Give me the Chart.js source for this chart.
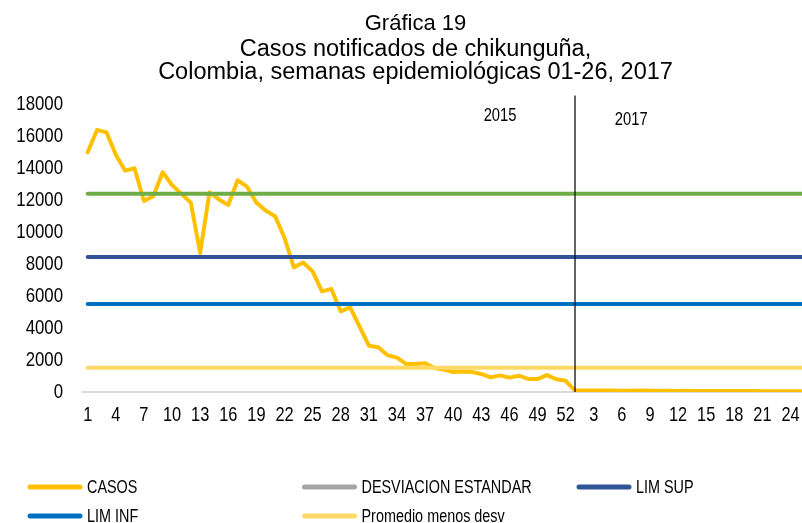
<!DOCTYPE html>
<html lang="es">
<head>
<meta charset="UTF-8">
<title>Gráfica 19 - Casos notificados de chikunguña</title>
<script src="https://cdn.jsdelivr.net/npm/chart.js"></script>
<style>
    html, body {
        margin: 0;
        padding: 0;
        background: #fff;
        overflow: hidden;
    }
    .chart-box {
        position: relative;
        width: 814px;
        height: 523px;
    }
</style>
</head>
<body>
<div class="chart-box"><canvas id="chikChart"></canvas></div>
<script>
// semanas epidemiológicas (eje X)
const semanas2015 = [1,2,3,4,5,6,7,8,9,10,11,12,13,14,15,16,17,18,19,20,21,22,23,24,25,26,
                     27,28,29,30,31,32,33,34,35,36,37,38,39,40,41,42,43,44,45,46,47,48,49,50,51,52];
const semanas2017 = [1,2,3,4,5,6,7,8,9,10,11,12,13,14,15,16,17,18,19,20,21,22,23,24,25,26];

// casos notificados por semana
const casos2015 = [15000,16400,16250,14850,13850,14000,11950,12250,13750,12950,12400,11850,8700,
                   12500,12050,11700,13250,12850,11850,11350,11000,9650,7800,8100,7550,6300,
                   6450,5050,5300,4100,2900,2800,2300,2150,1750,1750,1800,1500,1400,1250,
                   1280,1250,1130,920,1040,900,1020,820,810,1060,800,700];
const casos2017 = [90,95,100,95,90,85,80,90,85,80,75,70,75,70,65,70,60,55,60,55,50,45,40,45,40,35];

// líneas de referencia (valores constantes)
const promedio = 12400;
const limSup = 8450;
const limInf = 5500;
const promMenosDesv = 1520;
const desviacion = []; // sin trazo visible en el rango del gráfico

const yTicks = [0,2000,4000,6000,8000,10000,12000,14000,16000,18000];

const labels = [...semanas2015, ...semanas2017];
const casos = [...casos2015, ...casos2017];
const constante = v => labels.map(() => v);

const FONT = '"Liberation Sans", Arial, sans-serif';

// texto comprimido en horizontal (la original usa una fuente "narrow")
function textoAngosto(ctx, text, px, py, align, k) {
    ctx.save();
    ctx.translate(px, py);
    ctx.scale(k || 0.8, 1);
    ctx.textAlign = align;
    ctx.fillText(text, 0, 0);
    ctx.restore();
}

// rotulos de los ejes
const etiquetas = {
    id: 'etiquetas',
    afterDraw(chart) {
        const {ctx, scales: {x, y}} = chart;
        ctx.save();
        ctx.fillStyle = '#000';
        ctx.textBaseline = 'middle';
        ctx.font = '21px ' + FONT;
        y.ticks.forEach(t => {
            textoAngosto(ctx, String(t.value), y.right - 20, y.getPixelForValue(t.value), 'right');
        });
        labels.forEach((lab, i) => {
            if (i % 3 !== 0) return;
            textoAngosto(ctx, String(lab), x.getPixelForValue(i), x.top + 23, 'center', 0.78);
        });
        ctx.restore();
    }
};

// linea vertical 2015 / 2017 y rotulos de año
const separador = {
    id: 'separador',
    afterDatasetsDraw(chart) {
        const {ctx, chartArea, scales: {x, y}} = chart;
        const px = x.getPixelForValue(semanas2015.length);
        ctx.save();
        ctx.strokeStyle = '#111';
        ctx.lineWidth = 1.3;
        ctx.beginPath();
        ctx.moveTo(px, chartArea.top);
        ctx.lineTo(px, y.getPixelForValue(0));
        ctx.stroke();
        ctx.font = '18px ' + FONT;
        ctx.fillStyle = '#000';
        ctx.textBaseline = 'middle';
        textoAngosto(ctx, '2015', x.getPixelForValue(44), y.getPixelForValue(17250), 'center', 0.82);
        textoAngosto(ctx, '2017', x.getPixelForValue(58), y.getPixelForValue(16990), 'center', 0.82);
        ctx.restore();
    }
};

// leyenda en columnas fijas, como en la original
const leyenda = {
    id: 'leyenda',
    afterDraw(chart) {
        const ctx = chart.ctx;
        const items = chart.data.datasets.filter(d => d.enLeyenda);
        ctx.save();
        ctx.font = '18px ' + FONT;
        ctx.textBaseline = 'middle';
        ctx.fillStyle = '#000';
        items.forEach((d, i) => {
            const col = i % 3, row = Math.floor(i / 3);
            const x0 = 28 + col * 274.5;
            const yy = 487 + row * 29;
            ctx.strokeStyle = d.borderColor;
            ctx.lineWidth = 5;
            ctx.lineCap = 'round';
            ctx.beginPath();
            ctx.moveTo(x0 + 2, yy);
            ctx.lineTo(x0 + 52, yy);
            ctx.stroke();
            textoAngosto(ctx, d.label, x0 + 59, yy + 1, 'left', 0.8);
        });
        ctx.restore();
    }
};

const lineaBase = {
    pointRadius: 0,
    pointHoverRadius: 0,
    tension: 0,
    fill: false,
    borderWidth: 4,
    borderJoinStyle: 'round',
    borderCapStyle: 'round'
};

new Chart(document.getElementById('chikChart'), {
    type: 'line',
    data: {
        labels: labels,
        datasets: [
            {...lineaBase, label: 'CASOS', data: casos, borderColor: '#FFC000', order: 10, enLeyenda: true},
            {...lineaBase, label: 'DESVIACION ESTANDAR', data: desviacion, borderColor: '#A5A5A5', order: 5, enLeyenda: true},
            {...lineaBase, label: 'LIM SUP', data: constante(limSup), borderColor: '#2F5597', order: 4, enLeyenda: true},
            {...lineaBase, label: 'LIM INF', data: constante(limInf), borderColor: '#0070C0', order: 3, enLeyenda: true},
            {...lineaBase, label: 'Promedio menos desv', data: constante(promMenosDesv), borderColor: '#FFD966', order: 2, enLeyenda: true},
            {...lineaBase, label: 'PROMEDIO', data: constante(promedio), borderColor: '#70AD47', order: 1, enLeyenda: false}
        ]
    },
    options: {
        responsive: true,
        maintainAspectRatio: false,
        animation: false,
        layout: {
            padding: {left: 17, right: 0, top: 0, bottom: 96}
        },
        plugins: {
            legend: {display: false},
            tooltip: {enabled: false},
            title: {
                display: true,
                text: 'Gráfica 19',
                color: '#000',
                font: {family: FONT, size: 22, weight: 'normal', lineHeight: 1.2},
                padding: {top: 11, bottom: 0}
            },
            subtitle: {
                display: true,
                text: ['Casos notificados de chikunguña,', 'Colombia, semanas epidemiológicas 01-26, 2017'],
                color: '#000',
                font: {family: FONT, size: 23.5, weight: 'normal', lineHeight: 1.0},
                padding: {top: 0, bottom: 11}
            }
        },
        scales: {
            x: {
                offset: true,
                grid: {display: false, drawTicks: false},
                border: {display: true, color: '#D9D9D9', width: 2},
                ticks: {display: false, autoSkip: false},
                afterFit: axis => { axis.height = 35; }
            },
            y: {
                min: 0,
                max: 18560,
                grid: {display: false, drawTicks: false},
                border: {display: false},
                afterBuildTicks: axis => { axis.ticks = yTicks.map(v => ({value: v})); },
                ticks: {display: false},
                afterFit: axis => { axis.width = 66; }
            }
        }
    },
    plugins: [separador, etiquetas, leyenda]
});
</script>
</body>
</html>
